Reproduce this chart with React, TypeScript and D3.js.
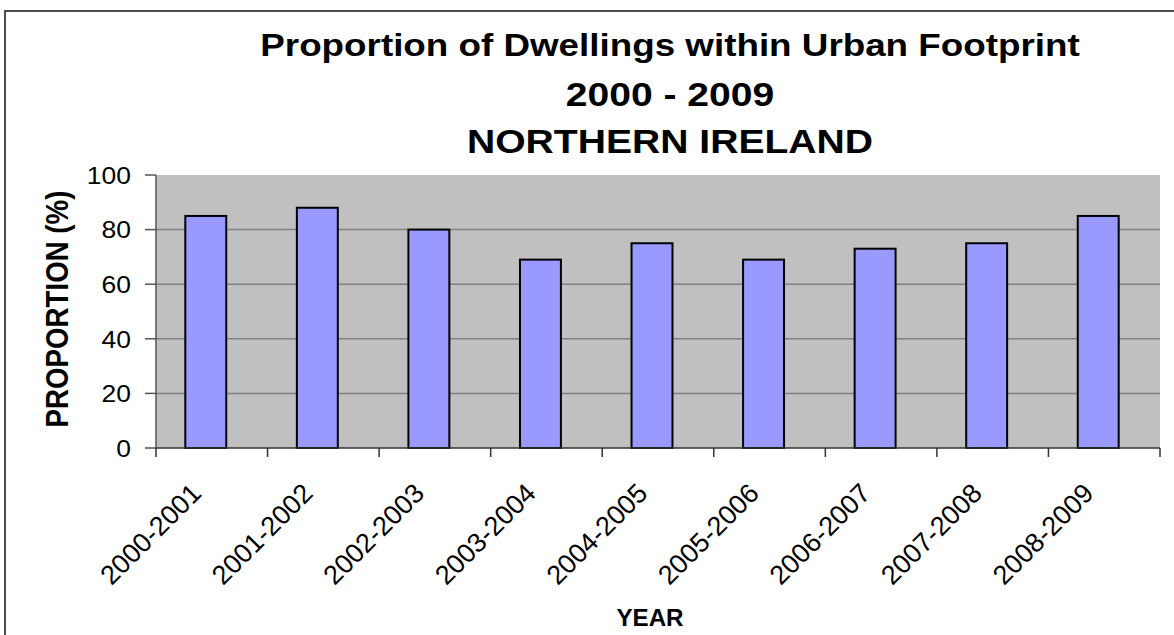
import React from "react";
import * as d3 from "d3";

const categories = ["2000-2001","2001-2002","2002-2003","2003-2004","2004-2005","2005-2006","2006-2007","2007-2008","2008-2009"];
const proportions = [85, 88, 80, 69, 75, 69, 73, 75, 85];
const yTicks = [0, 20, 40, 60, 80, 100];
const titleLines = ["Proportion of Dwellings within Urban Footprint", "2000 - 2009", "NORTHERN IRELAND"];

const W = 1174, H = 635;
const plot = { left: 156, right: 1160, top: 175, bottom: 448 };
const FONT = "'Liberation Sans', Arial, Helvetica, sans-serif";
const titleStyle = [
  { y: 56, size: 32 },
  { y: 105.5, size: 34 },
  { y: 153, size: 34 },
];

export default function App() {
  const x = d3.scaleBand<string>().domain(categories).range([plot.left, plot.right]).padding(0);
  const y = d3.scaleLinear().domain([0, 100]).range([plot.bottom, plot.top]);
  const bw = x.bandwidth();
  const barW = bw * 0.367;
  const barShift = -6;
  const boundaries = d3.range(categories.length + 1).map(i => plot.left + i * bw);

  return (
    <svg width={W} height={H} style={{ position: "absolute", left: 0, top: 0, background: "#fff" }} fontFamily={FONT}>
      <rect x={5} y={11} width={W + 20} height={H + 20} fill="#fff" stroke="#222" strokeWidth={1.6} />
      {/* Title */}
      {titleLines.map((t, i) => (
        <text key={t} transform={`translate(670, ${titleStyle[i].y}) scale(1.15, 1)`} textAnchor="middle" fontSize={titleStyle[i].size} fontWeight="bold" fill="#000">{t}</text>
      ))}
      {/* plot background */}
      <rect x={plot.left} y={plot.top} width={plot.right - plot.left} height={plot.bottom - plot.top} fill="#C0C0C0" />
      {/* gridlines */}
      {yTicks.filter(v => v > 0 && v < 100).map(v => (
        <line key={v} x1={plot.left} x2={plot.right} y1={y(v)} y2={y(v)} stroke="#808080" strokeWidth={1.5} />
      ))}
      {/* bars */}
      {categories.map((c, i) => {
        const cx = (x(c) as number) + bw / 2 + barShift;
        return (
          <rect key={c} x={cx - barW / 2} y={y(proportions[i])} width={barW} height={y(0) - y(proportions[i])}
            fill="#9999FF" stroke="#000" strokeWidth={2} />
        );
      })}
      {/* y axis */}
      <line x1={plot.left} x2={plot.left} y1={plot.top} y2={plot.bottom} stroke="#555" strokeWidth={1.5} />
      {yTicks.map(v => (
        <g key={v}>
          <line x1={plot.left - 11} x2={plot.left} y1={y(v)} y2={y(v)} stroke="#555" strokeWidth={1.5} />
          <text transform={`translate(131, ${y(v) + 8.8}) scale(1.08, 1)`} textAnchor="end" fontSize={24.5} fill="#000">{v}</text>
        </g>
      ))}
      {/* x axis */}
      <line x1={plot.left} x2={plot.right} y1={plot.bottom} y2={plot.bottom} stroke="#333" strokeWidth={1.5} />
      {boundaries.map((bx, i) => (
        <line key={i} x1={bx} x2={bx} y1={plot.bottom} y2={plot.bottom + 9} stroke="#333" strokeWidth={1.5} />
      ))}
      {categories.map(c => {
        const ax = (x(c) as number) + bw / 2 - 9;
        return (
          <text key={c} transform={`translate(${ax}, 495) rotate(-45)`} textAnchor="end" fontSize={27} fill="#000">{c}</text>
        );
      })}
      {/* axis titles */}
      <text transform={`translate(68, 309) rotate(-90) scale(1, 1.12)`} textAnchor="middle" fontSize={27.7} fontWeight="bold" fill="#000">PROPORTION (%)</text>
      <text transform={`translate(650, 626) scale(1.05, 1)`} textAnchor="middle" fontSize={23} fontWeight="bold" fill="#000">YEAR</text>
    </svg>
  );
}
